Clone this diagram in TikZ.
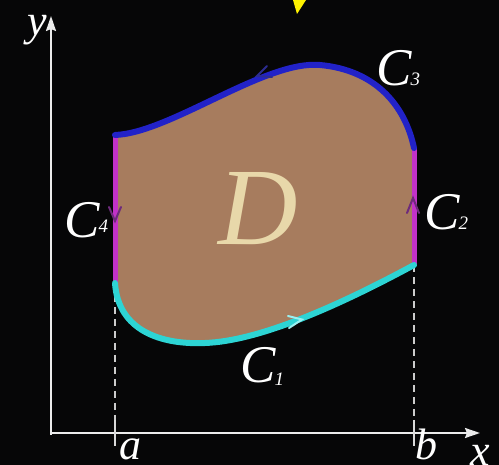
\documentclass[tikz,border=0pt]{standalone}
\usepackage{fontspec}
\setmainfont{Liberation Serif}
\usetikzlibrary{arrows.meta}
\definecolor{bg}{HTML}{060607}
\definecolor{regionfill}{HTML}{A77C5E}
\definecolor{ccyan}{HTML}{2DD4D4}
\definecolor{cblue}{HTML}{2222C8}
\definecolor{cmag}{HTML}{C232C8}
\definecolor{dcolor}{HTML}{E8D8AA}
\definecolor{chevmag}{HTML}{6E2A7C}
\definecolor{chevblue}{HTML}{2C2C90}
\definecolor{chevcyan}{HTML}{9AF0F0}
\tikzset{
  axis/.style={white!92!black, line width=2pt},
  guide/.style={white!80!black, line width=1.2pt, dash pattern=on 7pt off 5pt},
  tick/.style={white!85!black, line width=1.5pt},
  lab/.style={text=white, font=\fontsize{44}{44}\selectfont\itshape, inner sep=0pt},
  clab/.style={text=white, font=\fontsize{53}{53}\selectfont\itshape, inner sep=0pt, anchor=base west},
  chev/.style={line width=2pt, line cap=round, line join=miter},
}
\newcommand{\csub}[2]{C\kern-1pt\raisebox{#2}{\fontsize{19}{19}\selectfont #1}}
\begin{document}
\begin{tikzpicture}[x=1pt,y=-1pt]
\fill[bg] (0,0) rectangle (499,465);
\useasboundingbox (0,0) rectangle (499,465);
% corners
\coordinate (BL) at (115,283);
\coordinate (BR) at (414,265);
\coordinate (TR) at (414,148);
\coordinate (TL) at (115,135);
\coordinate (top) at (320,65);
\coordinate (low) at (205,343);
% guides and ticks
\coordinate (ga) at (115,420);
\coordinate (gb) at (414,420);
\draw[guide] (BL) -- (ga);
\draw[guide] (BR) -- (gb);
% axes
\coordinate (O) at (51,433);
\coordinate (xend) at (480,433);
\coordinate (yend) at (51,16);
\draw[axis, -{Stealth[length=15pt,width=10pt,inset=2pt]}] (O) -- (xend);
\draw[axis, -{Stealth[length=15pt,width=10pt,inset=2pt]}] (51,435) -- (yend);
\draw[tick] (ga) -- (115,446);
\draw[tick] (gb) -- (414,446);
% region
\fill[regionfill] (BL) .. controls (118,330) and (160,345) .. (low)
  .. controls (260,341) and (340,305) .. (BR) -- (TR)
  .. controls (405,105) and (375,70) .. (top)
  .. controls (265,60) and (170,133) .. (TL) -- cycle;
\draw[cmag, line width=5pt] (TL) -- (BL);
\draw[cmag, line width=5pt] (BR) -- (TR);
\draw[ccyan, line width=6pt, line cap=round] (BL) .. controls (118,330) and (160,345) .. (low)
  .. controls (260,341) and (340,305) .. (BR);
\draw[cblue, line width=6pt, line cap=round] (TR) .. controls (405,105) and (375,70) .. (top)
  .. controls (265,60) and (170,133) .. (TL);
% chevrons
\draw[chev, chevcyan] (288,316) -- (302,319.5) -- (289,328);
\draw[chev, chevblue] (267,66) -- (257,76) -- (272,77);
\draw[chev, chevmag] (109,207) -- (115,221) -- (121,207);
\draw[chev, chevmag] (407,213) -- (413,198) -- (419,213);
% yellow marker
\fill[yellow] (293,0) -- (306,0) -- (297,14) -- cycle;
% labels
\node[lab, anchor=base] (la) at (130,460) {a};
\node[lab, anchor=base] (lb) at (426,460) {b};
\node[lab, anchor=base] (lx) at (480,466) {x};
\node[lab, anchor=base] (ly) at (37,36) {y};
\node[text=dcolor, font=\fontsize{110}{110}\selectfont\itshape, inner sep=0pt, anchor=base] (D) at (258,245) {D};
\node[clab] (c1) at (240,383) {\csub{1}{-3pt}};
\node[clab] (c2) at (424,230) {\csub{2}{0pt}};
\node[clab] (c3) at (376,86) {\csub{3}{0pt}};
\node[clab] (c4) at (64,238) {\csub{4}{5pt}};
\end{tikzpicture}
\end{document}
